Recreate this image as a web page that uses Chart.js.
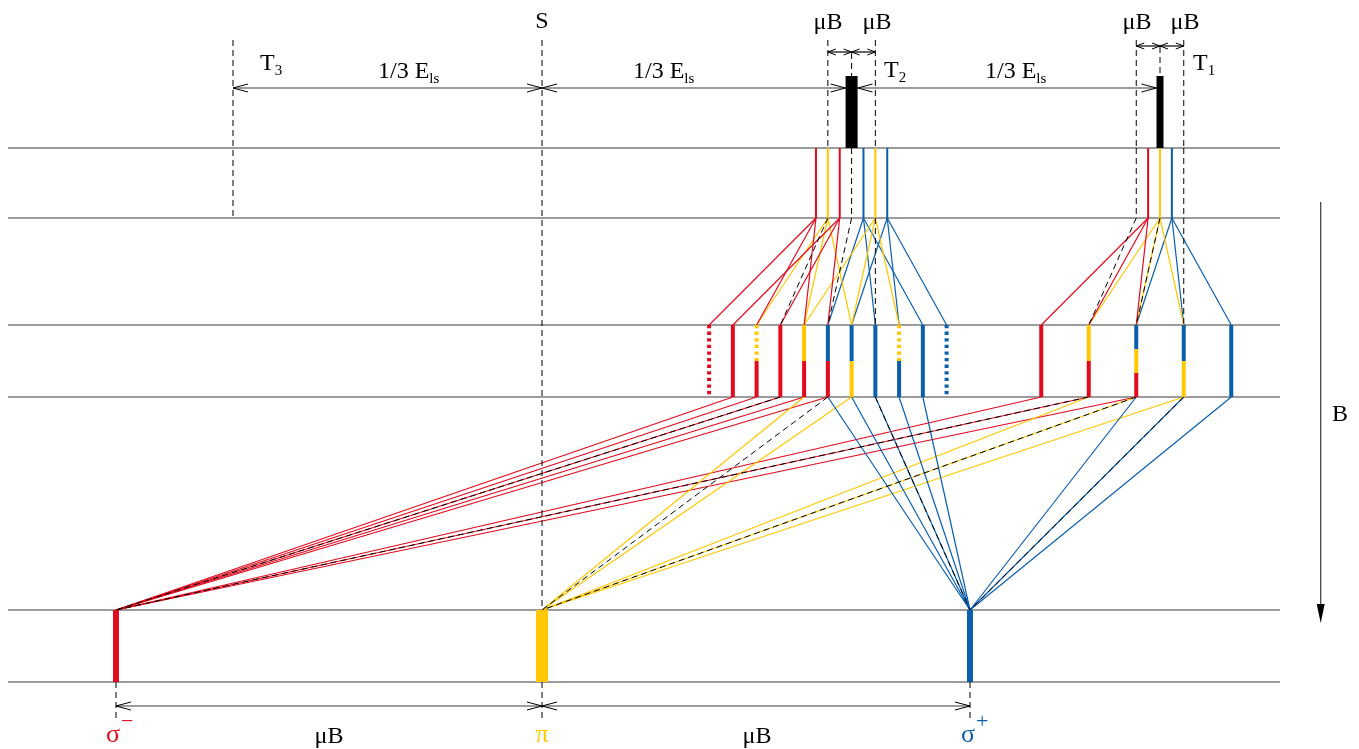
<!DOCTYPE html>
<html>
<head>
<meta charset="utf-8">
<title>Zeeman splitting</title>
<script src="https://cdn.jsdelivr.net/npm/chart.js@4.4.1/dist/chart.umd.min.js"></script>
<style>
  html, body { margin: 0; padding: 0; background: #fff; }
  #wrap { width: 1359px; height: 749px; }
</style>
</head>
<body>
<div id="wrap"><canvas id="myChart"></canvas></div>
<script>
(function () {
    "use strict";

    // energy axis values (drawing px)
    const termNames = ['T3', 'S', 'T2', 'T1'];
    const termCentres = [233, 542, 851.6, 1160];
    const muB = 23.75;                       // Zeeman step of the upper rows
    const bottomLines = [116, 542, 970];     // sigma-, pi, sigma+
    const bottomPol = ['r', 'y', 'b'];
    const levels = [148, 218, 325, 397, 610, 682];

    // row A: sublevel sticks (offset in muB, polarisation)
    const t2Sticks = [-1.5, -1, -0.5, 0, 0.5, 1, 1.5];
    const t2StickPol = ['r', 'y', 'r', 'k', 'b', 'y', 'b'];
    const t1Sticks = [-1, -0.5, 0, 0.5, 1];
    const t1StickPol = ['k', 'r', 'y', 'b', 'k'];

    // row B: components, colours top to bottom, ':' = zero intensity
    const t2Bars = [-6, -5, -4, -3, -2, -1, 0, 1, 2, 3, 4];
    const t2BarPol = [['r:'], ['r'], ['y:', 'r'], ['r'], ['y', 'r'], ['b', 'r'], ['b', 'y'], ['b'], ['y:', 'b'], ['b'], ['b:']];
    const t1Bars = [-5, -3, -1, 1, 3];
    const t1BarPol = [['r'], ['y', 'r'], ['b', 'y', 'r'], ['b', 'y'], ['b']];

    // row A -> row B links: [stick, bar, polarisation]
    const t2Links = [
        [-1.5, -6, 'r'], [-1.5, -4, 'r'], [-1.5, -2, 'r'],
        [-0.5, -5, 'r'], [-0.5, -3, 'r'], [-0.5, -1, 'r'],
        [-1, -4, 'y'], [-1, -2, 'y'], [-1, 0, 'y'],
        [1, -2, 'y'], [1, 0, 'y'], [1, 2, 'y'],
        [0.5, -1, 'b'], [0.5, 1, 'b'], [0.5, 3, 'b'],
        [1.5, 0, 'b'], [1.5, 2, 'b'], [1.5, 4, 'b'],
        [0, -1, 'k'], [-1, -3, 'k'], [1, 1, 'k']
    ];
    const t1Links = [
        [-0.5, -5, 'r'], [-0.5, -3, 'r'], [-0.5, -1, 'r'],
        [0, -3, 'y'], [0, -1, 'y'], [0, 1, 'y'],
        [0.5, -1, 'b'], [0.5, 1, 'b'], [0.5, 3, 'b'],
        [-1, -3, 'k'], [0, -1, 'k'], [1, 1, 'k']
    ];
    // row B bar -> bottom line for the dashed reference
    const dashedRoute = [[-3, 0], [-1, 1], [1, 2]];

    const RED = '#e30a1e', YEL = '#ffc800', BLU = '#0a5fad', INK = '#000', RULE = '#3a3a3a';
    const polColour = { r: RED, y: YEL, b: BLU, k: INK };
    const DASH = [6, 4];

    let datasets = [];
    function seg(x1, y1, x2, y2, colour, width, dash, order) {
        datasets.push({
            data: [{ x: x1, y: y1 }, { x: x2, y: y2 }],
            showLine: true,
            borderColor: colour,
            backgroundColor: colour,
            borderWidth: width,
            borderDash: dash || [],
            borderCapStyle: 'butt',
            pointRadius: 0,
            pointHoverRadius: 0,
            order: order
        });
    }

    // horizontal level rules
    levels.forEach(function (y) { seg(8, y, 1280, y, RULE, 1.2, null, 9); });

    const T3 = termCentres[0], S = termCentres[1], T2 = termCentres[2], T1 = termCentres[3];

    // dashed guides
    seg(T3, 40, T3, levels[1], INK, 1, DASH, 3);
    seg(S, 40, S, levels[4], INK, 1, DASH, 3);
    seg(T2 - muB, 40, T2 - muB, levels[0], INK, 1, DASH, 3);
    seg(T2 + muB, 40, T2 + muB, levels[0], INK, 1, DASH, 3);
    seg(T2, 53, T2, 76, INK, 1, DASH, 3);
    seg(T1 - muB, 40, T1 - muB, levels[0], INK, 1, DASH, 3);
    seg(T1 + muB, 40, T1 + muB, levels[0], INK, 1, DASH, 3);
    seg(T1, 47, T1, 76, INK, 1, DASH, 3);
    bottomLines.forEach(function (x) { seg(x, levels[5], x, 718, INK, 1, DASH, 3); });

    // unperturbed triplet lines
    seg(T2, 76, T2, levels[0], INK, 12, null, 1);
    seg(T1, 76, T1, levels[0], INK, 7, null, 1);

    const terms = [
        { c: T2, sticks: t2Sticks, stickPol: t2StickPol, bars: t2Bars, barPol: t2BarPol, links: t2Links },
        { c: T1, sticks: t1Sticks, stickPol: t1StickPol, bars: t1Bars, barPol: t1BarPol, links: t1Links }
    ];

    terms.forEach(function (t) {
        // row A sticks
        t.sticks.forEach(function (m, i) {
            const p = t.stickPol[i];
            if (p === 'k') seg(t.c + m * muB, levels[0], t.c + m * muB, levels[1], INK, 1, DASH, 3);
            else seg(t.c + m * muB, levels[0], t.c + m * muB, levels[1], polColour[p], 2, null, 2);
        });
        // row A -> row B
        t.links.forEach(function (l) {
            const x1 = t.c + l[0] * muB, x2 = t.c + l[1] * muB;
            if (l[2] === 'k') seg(x1, levels[1], x2, levels[2], INK, 1, DASH, 3);
            else seg(x1, levels[1], x2, levels[2], polColour[l[2]], 1.2, null, 4);
        });
        // row B bars and row B -> bottom
        t.bars.forEach(function (k, i) {
            const x = t.c + k * muB;
            const parts = t.barPol[i];
            const h = (levels[3] - levels[2]) / parts.length;
            parts.forEach(function (code, j) {
                const p = code.charAt(0), zero = code.length > 1;
                seg(x, levels[2] + j * h, x, levels[2] + (j + 1) * h, polColour[p], 4, zero ? [3.3, 3.3] : null, 1);
                if (!zero) {
                    const target = bottomLines[bottomPol.indexOf(p)];
                    seg(x, levels[3], target, levels[4], polColour[p], 1.2, null, 4);
                }
            });
            dashedRoute.forEach(function (r) {
                if (r[0] === k) seg(x, levels[3], bottomLines[r[1]], levels[4], INK, 1, DASH, 3);
            });
        });
    });

    // bottom row lines
    const bottomWidths = [6, 12, 6];
    bottomLines.forEach(function (x, i) {
        seg(x, levels[4], x, levels[5], polColour[bottomPol[i]], bottomWidths[i], null, 1);
    });

    // double-headed spans: [from, to, height]
    const spans = [
        [T3, S, 88], [S, T2 - 6, 88], [T2 + 6, T1 - 3.5, 88],
        [T2 - muB, T2, 52], [T2, T2 + muB, 52],
        [T1 - muB, T1, 46], [T1, T1 + muB, 46],
        [bottomLines[0], bottomLines[1], 706], [bottomLines[1], bottomLines[2], 706]
    ];
    spans.forEach(function (s) { seg(s[0], s[2], s[1], s[2], s[2] === 88 || s[2] === 706 ? RULE : INK, 1.2, null, 5); });
    // field arrow
    seg(1320.7, 202, 1320.7, 608, RULE, 1.2, null, 5);

    const serif = '"Liberation Serif", "DejaVu Serif", serif';
    const notes = [
        { t: 'S', x: 542, y: 28, align: 'center' },
        { t: 'μB', x: 828, y: 29, align: 'center' },
        { t: 'μB', x: 877, y: 29, align: 'center' },
        { t: 'μB', x: 1137, y: 29, align: 'center' },
        { t: 'μB', x: 1185, y: 29, align: 'center' },
        { t: 'T', sub: '3', x: 260, y: 70 },
        { t: 'T', sub: '2', x: 884, y: 77 },
        { t: 'T', sub: '1', x: 1193, y: 70 },
        { t: '1/3 E', sub: 'ls', x: 378, y: 78 },
        { t: '1/3 E', sub: 'ls', x: 633, y: 78 },
        { t: '1/3 E', sub: 'ls', x: 985, y: 78 },
        { t: 'B', x: 1340, y: 421, align: 'center' },
        { t: 'μB', x: 329, y: 743, align: 'center' },
        { t: 'μB', x: 757, y: 743, align: 'center' },
        { t: 'σ', sup: '−', x: 113, y: 742, align: 'center', colour: RED, size: 26 },
        { t: 'π', x: 542, y: 742, align: 'center', colour: YEL, size: 26 },
        { t: 'σ', sup: '+', x: 968, y: 742, align: 'center', colour: BLU, size: 26 }
    ];

    const decor = {
        id: 'decor',
        afterDatasetsDraw: function (chart) {
            const ctx = chart.ctx, xs = chart.scales.x, ys = chart.scales.y;
            const px = function (v) { return xs.getPixelForValue(v); };
            const py = function (v) { return ys.getPixelForValue(v); };
            ctx.save();
            // open arrow heads on both ends of each span
            spans.forEach(function (s) {
                const big = s[2] === 88 || s[2] === 706;
                const len = big ? 15 : 8, half = big ? 4 : 3;
                ctx.strokeStyle = INK;
                ctx.lineWidth = 1;
                [[s[0], 1], [s[1], -1]].forEach(function (e) {
                    const x = px(e[0]), y = py(s[2]);
                    ctx.beginPath();
                    ctx.moveTo(x + e[1] * len, y - half);
                    ctx.lineTo(x, y);
                    ctx.lineTo(x + e[1] * len, y + half);
                    ctx.stroke();
                });
            });
            // filled head of the field arrow
            ctx.fillStyle = INK;
            ctx.beginPath();
            ctx.moveTo(px(1320.7) - 4, py(604));
            ctx.lineTo(px(1320.7) + 4, py(604));
            ctx.lineTo(px(1320.7), py(623));
            ctx.closePath();
            ctx.fill();
            // labels
            ctx.textBaseline = 'alphabetic';
            notes.forEach(function (n) {
                ctx.fillStyle = n.colour || INK;
                ctx.font = (n.size || 24) + 'px ' + serif;
                ctx.textAlign = n.align || 'left';
                const x = px(n.x), y = py(n.y);
                ctx.fillText(n.t, x, y);
                const w = ctx.measureText(n.t).width;
                const right = n.align === 'center' ? x + w / 2 : x + w;
                ctx.textAlign = 'left';
                if (n.sub) {
                    ctx.font = '15px ' + serif;
                    ctx.fillText(n.sub, right, y + 5);
                }
                if (n.sup) {
                    ctx.font = '22px ' + serif;
                    ctx.fillText(n.sup, right + 1, y - 14);
                }
            });
            ctx.restore();
        }
    };

    const ctx = document.getElementById('myChart').getContext('2d');
    const chart = new Chart(ctx, {
        type: 'scatter',
        data: { datasets: datasets },
        options: {
            responsive: true,
            maintainAspectRatio: false,
            animation: false,
            events: [],
            layout: { padding: 0 },
            scales: {
                x: { type: 'linear', min: 0, max: 1359, display: false },
                y: { type: 'linear', min: 0, max: 749, reverse: true, display: false }
            },
            plugins: {
                legend: { display: false },
                tooltip: { enabled: false }
            }
        },
        plugins: [decor]
    });
})();
</script>
</body>
</html>
